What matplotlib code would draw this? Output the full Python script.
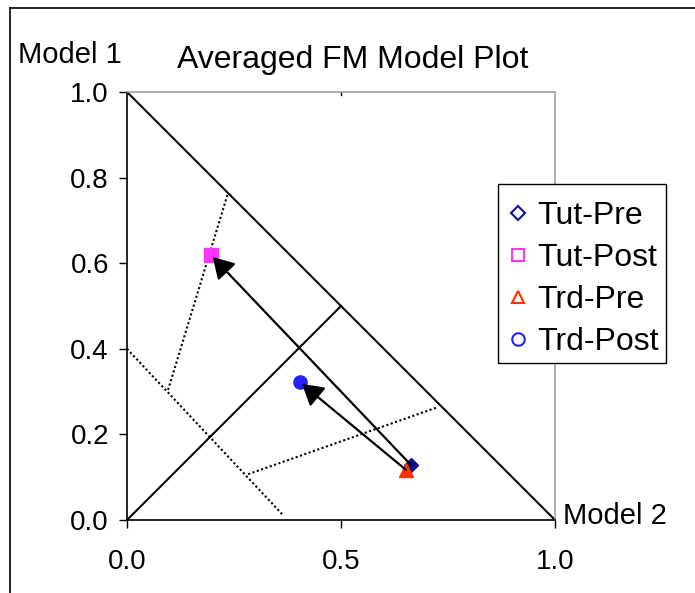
import matplotlib
matplotlib.use("Agg")
import matplotlib.pyplot as plt
from matplotlib.lines import Line2D
from matplotlib.patches import Rectangle

plt.rcParams['font.family'] = ['Liberation Sans', 'DejaVu Sans']

# ---- data ----
series_names = ['Tut-Pre', 'Tut-Post', 'Trd-Pre', 'Trd-Post']
model2_vals = [0.664, 0.196, 0.652, 0.404]
model1_vals = [0.128, 0.619, 0.117, 0.322]
series_markers = ['D', 's', '^', 'o']
series_colors = ['#10108a', '#ff33ff', '#ff3300', '#2222ff']
arrow_pairs = [(0, 1), (2, 3)]

# boundary lines (solid)
hyp_x = [0.0, 1.0]
hyp_y = [1.0, 0.0]
diag_x = [0.0, 0.5]
diag_y = [0.0, 0.5]
# mixed-state region lines (dotted)
dot1_x = [0.0, 0.364]
dot1_y = [0.40, 0.012]
dot2_x = [0.096, 0.236]
dot2_y = [0.304, 0.764]
dot3_x = [0.283, 0.727]
dot3_y = [0.107, 0.264]

xticks = [0.0, 0.5, 1.0]
xticklabels = ['0.0', '0.5', '1.0']
yticks = [0.0, 0.2, 0.4, 0.6, 0.8, 1.0]
yticklabels = ['0.0', '0.2', '0.4', '0.6', '0.8', '1.0']

W, H = 695, 593
fig = plt.figure(figsize=(6.95, 5.93), dpi=100)
ax = fig.add_axes([127/W, (H-520)/H, 428/W, 428/H])

ax.plot(hyp_x, hyp_y, color='black', lw=1.5, zorder=2)
ax.plot(diag_x, diag_y, color='black', lw=1.5, zorder=2)
for dx, dy in [(dot1_x, dot1_y), (dot2_x, dot2_y), (dot3_x, dot3_y)]:
    ax.plot(dx, dy, color='black', lw=1.5, ls=(0, (1, 1.2)), zorder=2)

sizes = {'D': 7, 's': 10.5, '^': 10, 'o': 9.5}
order = [0, 1, 3, 2]
for i in order:
    ax.plot(model2_vals[i], model1_vals[i], marker=series_markers[i],
            ms=sizes[series_markers[i]], color=series_colors[i],
            mec=series_colors[i], ls='none', zorder=3)

for a, b in arrow_pairs:
    ax.annotate('', xy=(model2_vals[b], model1_vals[b]),
                xytext=(model2_vals[a], model1_vals[a]),
                arrowprops=dict(arrowstyle='-|>,head_length=0.42,head_width=0.25',
                                mutation_scale=30, lw=1.6, color='black',
                                shrinkA=0, shrinkB=2),
                zorder=4)

ax.set_xlim(0, 1)
ax.set_ylim(0, 1)
ax.set_xticks(xticks)
ax.set_xticklabels(xticklabels)
ax.set_yticks(yticks)
ax.set_yticklabels(yticklabels)
ax.tick_params(axis='both', direction='out', length=6, width=1, labelsize=20)
ax.tick_params(axis='x', pad=15)
ax.tick_params(axis='y', pad=7)
for s in ['left', 'bottom']:
    ax.spines[s].set_color('black')
    ax.spines[s].set_linewidth(1.2)
for s in ['top', 'right']:
    ax.spines[s].set_color('#a0a0a0')
    ax.spines[s].set_linewidth(1.2)
ax.spines['bottom'].set_zorder(5)

# small top tick at 0.5
ax.plot([0.5, 0.5], [1.0, 0.993], color='black', lw=1, clip_on=False)

fig.text(70/W, 1 - 55/H, 'Model 1', fontsize=21, ha='center', va='center')
fig.text(353/W, 1 - 60/H, 'Averaged FM Model Plot', fontsize=23, ha='center', va='center')
fig.text(563/W, 1 - 516/H, 'Model 2', fontsize=21, ha='left', va='center')

# legend box
fig.add_artist(Rectangle((498/W, 1 - 363/H), 168/W, 179/H, transform=fig.transFigure,
                         facecolor='white', edgecolor='black', lw=1.0, zorder=5))
handles = [Line2D([], [], marker=series_markers[i], ls='none', mfc='none',
                  mec=series_colors[i], mew=1.5,
                  ms={'D': 7, 's': 9, '^': 9, 'o': 9}[series_markers[i]])
           for i in range(4)]
leg = fig.legend(handles, series_names, loc='center left',
                 bbox_to_anchor=(507/W, 1 - 279/H), fontsize=23,
                 frameon=False, handlelength=0.69, handletextpad=0.25,
                 borderpad=0, labelspacing=0.38, borderaxespad=0)
leg.set_zorder(6)

# outer border lines
fig.add_artist(Line2D([10/W, 1], [1 - 8/H, 1 - 8/H], color='black', lw=1.2))
fig.add_artist(Line2D([10/W, 10/W], [0, 1 - 8/H], color='black', lw=1.2))

fig.savefig('out.png', dpi=100)
